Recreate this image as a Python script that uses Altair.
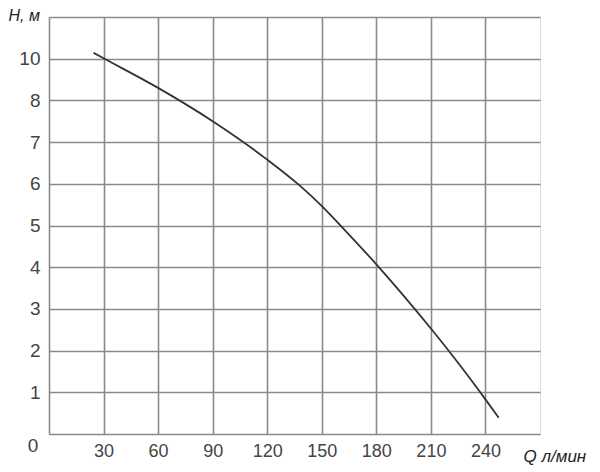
import altair as alt
import pandas as pd

# Pump curve (Q in l/min, H on the chart's grid scale)
q_vals = [24.5, 30, 60, 90, 120, 137.3, 150.2, 162, 180, 193.2, 210, 226.3, 240, 247.3]
h_vals = [9.14, 9.01, 8.30, 7.50, 6.58, 5.98, 5.46, 4.92, 4.07, 3.41, 2.53, 1.63, 0.83, 0.39]

x_ticks = [0, 30, 60, 90, 120, 150, 180, 210, 240]
y_ticks = [0, 1, 2, 3, 4, 5, 6, 7, 8, 9, 10]

curve = pd.DataFrame({"Q": q_vals, "H": h_vals})
origin = pd.DataFrame({"Q": [0], "H": [0], "t": ["0"]})

FONT = "Liberation Sans"
GRID = "#8a8a8a"
TXT = "#444444"

x_enc = alt.X(
    "Q:Q",
    scale=alt.Scale(domain=[0, 270], nice=False, zero=False),
    axis=alt.Axis(
        values=x_ticks,
        labelExpr="datum.value == 0 ? '' : datum.label",
        grid=True, gridColor=GRID, gridWidth=1.6, gridOpacity=1,
        domain=False, ticks=False, labelPadding=8,
        labelFont=FONT, labelFontSize=18, labelColor=TXT,
        title="Q л/мин", titleFont=FONT, titleFontSize=17, titleFontStyle="italic",
        titleFontWeight="normal", titleColor="#222222",
        titleAnchor="start", titleAlign="left", titleX=474, titleY=27,
        titleBaseline="alphabetic",
    ),
)
y_enc = alt.Y(
    "H:Q",
    scale=alt.Scale(domain=[0, 10], nice=False, zero=False),
    axis=alt.Axis(
        values=y_ticks,
        labelExpr="datum.value == 0 || datum.value == 10 ? '' : (datum.value == 9 ? '10' : datum.label)",
        grid=True, gridColor=GRID, gridWidth=1.6, gridOpacity=1,
        domain=False, ticks=False, labelPadding=9,
        labelFont=FONT, labelFontSize=19, labelColor=TXT,
        title="H, м", titleFont=FONT, titleFontSize=16, titleFontStyle="italic",
        titleFontWeight="normal", titleColor="#222222", titleAngle=0,
        titleAlign="left", titleX=-41, titleY=3, titleBaseline="alphabetic",
    ),
)

line = alt.Chart(curve).mark_line(
    color="#333333", strokeWidth=1.8, interpolate="monotone"
).encode(x=x_enc, y=y_enc)

zero_lbl = alt.Chart(origin).mark_text(
    font=FONT, fontSize=19, color=TXT, dx=-16, dy=12, align="center", baseline="middle"
).encode(x="Q:Q", y="H:Q", text="t:N")

chart = alt.layer(line, zero_lbl).properties(
    width=491,
    height=417,
    autosize=alt.AutoSizeParams(type="none"),
    padding={"left": 41, "top": 9, "right": 51, "bottom": 38},
).configure_view(stroke=None).configure(background="white")

chart.save("out.html", embed_options={"renderer": "svg", "actions": False})
